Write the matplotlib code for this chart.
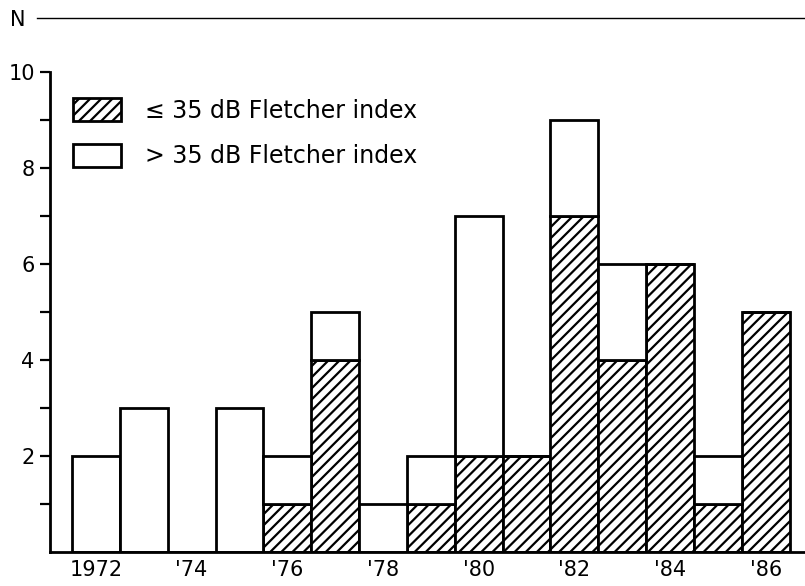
import numpy as np
import matplotlib.pyplot as plt
from matplotlib.patches import Patch
from matplotlib.lines import Line2D

# number of cases per year, split by Fletcher index
years = np.arange(1972, 1987)
low_index = [0, 0, 0, 0, 1, 4, 0, 1, 2, 2, 7, 4, 6, 1, 5]     # <= 35 dB
total = [2, 3, 0, 3, 2, 5, 1, 2, 7, 2, 9, 6, 6, 2, 5]
high_index = [t - l for t, l in zip(total, low_index)]          # > 35 dB

tick_years = [1972, 1974, 1976, 1978, 1980, 1982, 1984, 1986]
tick_labels = ["1972", "'74", "'76", "'78", "'80", "'82", "'84", "'86"]

plt.rcParams['font.family'] = ['DejaVu Sans']
plt.rcParams['hatch.linewidth'] = 1.6

fig = plt.figure(figsize=(8.05, 5.86), dpi=100)
ax = fig.add_axes([50/805, 34/586, 1 - 50/805, (552-72)/586])

lw = 2.0
ax.bar(years, low_index, width=1.0, color='white', edgecolor='black',
       hatch='///', linewidth=lw)
ax.bar(years, high_index, width=1.0, bottom=low_index, color='white',
       edgecolor='black', linewidth=lw)

ax.set_xlim(1971.04, 1986.82)
ax.set_ylim(0, 10)

ax.spines['top'].set_visible(False)
ax.spines['right'].set_visible(False)
ax.spines['left'].set_linewidth(lw)
ax.spines['bottom'].set_linewidth(lw)

ax.set_yticks([2, 4, 6, 8, 10])
ax.set_yticks([1, 3, 5, 7, 9], minor=True)
ax.tick_params(axis='y', which='both', direction='out', length=7, width=1.6,
               labelsize=15, pad=4)
ax.set_xticks(tick_years)
ax.set_xticklabels(tick_labels)
ax.tick_params(axis='x', length=0, labelsize=15, pad=6)

handles = [Patch(facecolor='white', edgecolor='black', hatch='///', linewidth=lw),
           Patch(facecolor='white', edgecolor='black', linewidth=lw)]
ax.legend(handles, ['≤ 35 dB Fletcher index', '> 35 dB Fletcher index'],
          loc='upper left', bbox_to_anchor=(0.0305, 0.945), frameon=False,
          fontsize=17, handlelength=2.05, handleheight=1.1, labelspacing=0.9,
          handletextpad=1.0, borderpad=0, borderaxespad=0)

# "N" heading with the rule across the top
fig.text(10/805, 1 - 20/586, 'N', fontsize=15, va='center', ha='left')
fig.add_artist(Line2D([37/805, 1.0], [1 - 18/586, 1 - 18/586], color='black',
                      linewidth=1.0, transform=fig.transFigure))

fig.savefig('out.png', dpi=100)
